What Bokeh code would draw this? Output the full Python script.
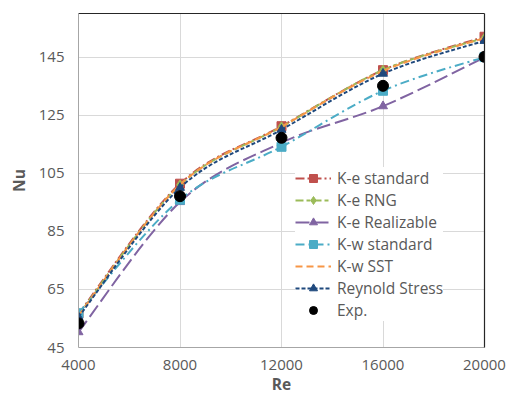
from bokeh.plotting import figure
from bokeh.models import (Range1d, FixedTicker, LinearAxis, Legend, LegendItem,
                          ColumnDataSource)
from bokeh.embed import file_html
from bokeh.resources import INLINE

# Reynolds numbers and Nusselt numbers for each turbulence model
re_values = [4000, 8000, 12000, 16000, 20000]
ke_standard = [56.6, 101.4, 121.2, 140.5, 152.0]
ke_rng = [56.2, 101.0, 121.0, 140.5, 151.6]
ke_realizable = [50.3, 95.1, 115.5, 128.1, 144.9]
kw_standard = [56.8, 95.9, 114.1, 133.4, 145.0]
kw_sst = [56.0, 101.0, 121.0, 140.2, 151.6]
reynold_stress = [55.5, 100.0, 120.0, 139.3, 150.6]
experiment = [53.3, 97.1, 117.2, 135.1, 145.1]

x_ticks = [4000, 8000, 12000, 16000, 20000]
y_ticks = [45, 65, 85, 105, 125, 145]

FONT = "Open Sans"
TEXT = "#595959"

p = figure(width=507, height=395, output_backend="svg", toolbar_location=None,
           x_range=Range1d(4000, 20000), y_range=Range1d(45, 160),
           min_border_left=78, min_border_right=23, min_border_top=13,
           min_border_bottom=48, frame_width=406, frame_height=334)
p.outline_line_color = None
p.background_fill_color = "white"
p.border_fill_color = "white"

for ax in (p.xaxis[0], p.yaxis[0]):
    ax.axis_line_color = "#a6a6a6"
    ax.axis_line_width = 1
    ax.major_tick_out = 0
    ax.major_tick_in = 0
    ax.minor_tick_out = 0
    ax.minor_tick_in = 0
    ax.major_label_text_font = FONT
    ax.major_label_text_font_size = "15px"
    ax.major_label_text_color = TEXT
    ax.axis_label_text_font = FONT
    ax.axis_label_text_font_size = "15.5px"
    ax.axis_label_text_font_style = "bold"
    ax.axis_label_text_color = TEXT

p.xaxis[0].ticker = FixedTicker(ticks=x_ticks)
p.yaxis[0].ticker = FixedTicker(ticks=y_ticks)
p.xaxis[0].axis_label = "Re"
p.yaxis[0].axis_label = "Nu"
p.xaxis[0].major_label_standoff = 12
p.yaxis[0].major_label_standoff = 14
p.xaxis[0].axis_label_standoff = 0
p.yaxis[0].axis_label_standoff = 6

# dark frame lines on the top and right edges
for side in ("above", "right"):
    ax = LinearAxis(ticker=FixedTicker(ticks=[]), axis_line_color="#262626",
                    axis_line_width=1.2, major_tick_out=0, major_tick_in=0,
                    minor_tick_out=0, minor_tick_in=0,
                    major_label_text_font_size="0px")
    p.add_layout(ax, side)

p.xgrid.grid_line_color = "#d9d9d9"
p.ygrid.grid_line_color = "#d9d9d9"
p.xgrid.ticker = FixedTicker(ticks=x_ticks)
p.ygrid.ticker = FixedTicker(ticks=y_ticks)


def smooth_segments(xs, ys, t=1.0 / 6.0):
    """Cubic Bezier segments through the points (Catmull-Rom style tangents)."""
    n = len(xs)
    seg = dict(x0=[], y0=[], x1=[], y1=[], cx0=[], cy0=[], cx1=[], cy1=[])
    for i in range(n - 1):
        a = max(i - 1, 0)
        b = min(i + 2, n - 1)
        seg["x0"].append(xs[i]); seg["y0"].append(ys[i])
        seg["x1"].append(xs[i + 1]); seg["y1"].append(ys[i + 1])
        seg["cx0"].append(xs[i] + (xs[i + 1] - xs[a]) * t)
        seg["cy0"].append(ys[i] + (ys[i + 1] - ys[a]) * t)
        seg["cx1"].append(xs[i + 1] - (xs[b] - xs[i]) * t)
        seg["cy1"].append(ys[i + 1] - (ys[b] - ys[i]) * t)
    return ColumnDataSource(seg)


series = [
    ("K-e standard", ke_standard, "#C0504D", "9 3 2 3", "square", 9),
    ("K-e RNG", ke_rng, "#9BBB59", "8 3 4 3", "diamond", 10),
    ("K-e Realizable", ke_realizable, "#8064A2", "14 5", "triangle", 9),
    ("K-w standard", kw_standard, "#4BACC6", "9 4 2 4", "square", 9),
    ("K-w SST", kw_sst, "#F79646", "7 4", None, 0),
    ("Reynold Stress", reynold_stress, "#1F497D", "4 2", "triangle", 9),
]

items = []
for name, ys, color, dash, marker, msize in series:
    p.bezier(x0="x0", y0="y0", x1="x1", y1="y1", cx0="cx0", cy0="cy0",
             cx1="cx1", cy1="cy1", source=smooth_segments(re_values, ys),
             line_color=color, line_width=2, line_dash=dash)
    # single-point line: draws nothing on the plot, gives the legend its line sample
    legend_line = p.line(x=re_values[:1], y=ys[:1], line_color=color,
                         line_width=2, line_dash=dash)
    rends = [legend_line]
    if marker:
        m = p.scatter(re_values, ys, marker=marker, size=msize,
                      fill_color=color, line_color=color)
        rends.append(m)
    items.append(LegendItem(label=name, renderers=rends))

exp_r = p.scatter(re_values, experiment, marker="circle", size=11,
                  fill_color="black", line_color="black")
items.append(LegendItem(label="Exp.", renderers=[exp_r]))

legend = Legend(items=items, location=(217, 26), margin=0, padding=4,
                spacing=0, glyph_width=36, glyph_height=20, label_height=20,
                label_standoff=6, label_text_font=FONT,
                label_text_font_size="15.5px", label_text_color=TEXT,
                background_fill_color="white", background_fill_alpha=1.0,
                border_line_color=None)
p.add_layout(legend, "center")

open("out.html", "w").write(file_html(p, INLINE))
